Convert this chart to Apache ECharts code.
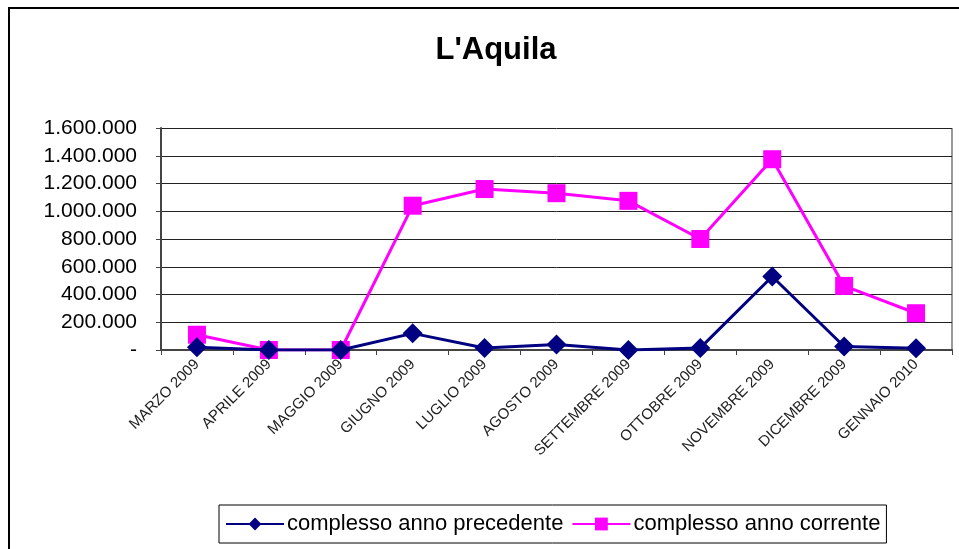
<!DOCTYPE html>
<html>
<head>
<meta charset="utf-8">
<script src="https://cdn.jsdelivr.net/npm/echarts@6/dist/echarts.min.js"></script>
<style>
html,body{margin:0;padding:0;background:#fff;overflow:hidden;}
#frame{position:absolute;left:8px;top:7px;width:1200px;height:800px;border:2px solid #000;box-sizing:border-box;}
#chart{position:absolute;left:0;top:0;width:959px;height:549px;}
</style>
</head>
<body>
<div id="frame"></div>
<div id="chart"></div>
<script>
const categories = ["MARZO 2009","APRILE 2009","MAGGIO 2009","GIUGNO 2009","LUGLIO 2009","AGOSTO 2009","SETTEMBRE 2009","OTTOBRE 2009","NOVEMBRE 2009","DICEMBRE 2009","GENNAIO 2010"];
const annoPrecedente = [20000, 0, 0, 120000, 15000, 40000, 0, 15000, 530000, 25000, 12000];
const annoCorrente = [110000, 0, 0, 1040000, 1160000, 1130000, 1075000, 800000, 1375000, 462000, 265000];
const seriesNames = ["complesso anno precedente", "complesso anno corrente"];

function fmt(v){
  if (v === 0) return '-';
  return String(Math.round(v)).replace(/\B(?=(\d{3})+(?!\d))/g, '.');
}

const chart = echarts.init(document.getElementById('chart'));
chart.setOption({
  backgroundColor: 'transparent',
  animation: false,
  title: {
    text: "L'Aquila",
    left: 491, top: 30, textAlign: 'center',
    textStyle: {fontFamily: 'Liberation Sans, Arial', fontSize: 31, fontWeight: 'bold', color: '#000'}
  },
  grid: {left: 161, right: 7, top: 128, bottom: 199, containLabel: false},
  legend: {
    left: 219, top: 505, height: 40,
    padding: [8, 6, 8, 6],
    borderColor: '#000', borderWidth: 1,
    itemWidth: 58, itemHeight: 16, itemGap: 8,
    textStyle: {fontFamily: 'Liberation Sans, Arial', fontSize: 22, color: '#000', padding: [0, 0, 0, -2]},
    data: seriesNames
  },
  xAxis: {
    type: 'category',
    data: categories,
    boundaryGap: true,
    axisLine: {lineStyle: {color: '#444', width: 2}},
    axisTick: {show: true, length: 5, lineStyle: {color: '#444'}},
    axisLabel: {rotate: 45, interval: 0, margin: 12, fontFamily: 'Liberation Sans, Arial', fontSize: 15, color: '#222'}
  },
  yAxis: {
    type: 'value',
    min: 0, max: 1600000, interval: 200000,
    axisLine: {show: true, lineStyle: {color: '#444', width: 2}},
    axisTick: {show: true, length: 5, lineStyle: {color: '#444'}},
    axisLabel: {formatter: fmt, margin: 24, fontFamily: 'Liberation Sans, Arial', fontSize: 21, color: '#000'},
    splitLine: {lineStyle: {color: '#222', width: 1}}
  },
  graphic: [{
    type: 'line', shape: {x1: 952, y1: 128, x2: 952, y2: 350}, style: {stroke: '#999', lineWidth: 2}
  }],
  series: [
    {
      name: seriesNames[0], type: 'line', data: annoPrecedente,
      symbol: 'diamond', symbolSize: 20,
      lineStyle: {color: '#000080', width: 3},
      itemStyle: {color: '#000080'}, z: 3
    },
    {
      name: seriesNames[1], type: 'line', data: annoCorrente,
      symbol: 'rect', symbolSize: 18,
      lineStyle: {color: '#ff00ff', width: 3},
      itemStyle: {color: '#ff00ff'}, z: 2
    }
  ]
});
</script>
</body>
</html>
